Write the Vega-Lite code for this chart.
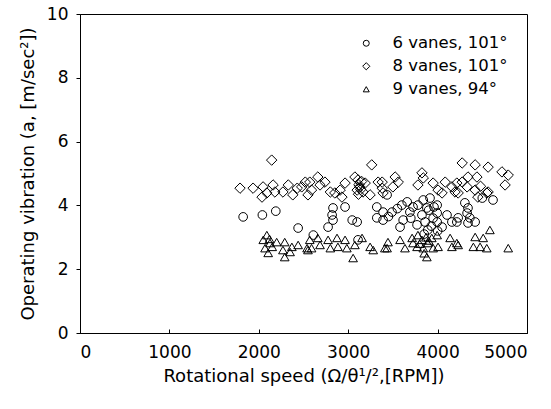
{
  "$schema": "https://vega.github.io/schema/vega-lite/v6.json",
  "width": 447,
  "height": 319,
  "autosize": {"type": "none"},
  "padding": {"left": 80, "top": 14, "right": 24, "bottom": 76},
  "background": "white",
  "config": {
    "font": "DejaVu Sans",
    "view": {"stroke": "black", "strokeWidth": 1},
    "axis": {"domainColor": "black", "tickColor": "black", "labelColor": "black", "titleColor": "black", "grid": false, "labelFont": "DejaVu Sans", "titleFont": "DejaVu Sans", "titleFontWeight": "normal"}
  },
  "data": {"values": [
    {"x":1825,"y":3.64,"s":"6 vanes, 101°"},{"x":2040,"y":3.70,"s":"6 vanes, 101°"},{"x":2190,"y":3.82,"s":"6 vanes, 101°"},{"x":2440,"y":3.29,"s":"6 vanes, 101°"},{"x":2830,"y":3.92,"s":"6 vanes, 101°"},{"x":2965,"y":3.95,"s":"6 vanes, 101°"},{"x":2820,"y":3.70,"s":"6 vanes, 101°"},{"x":2830,"y":3.54,"s":"6 vanes, 101°"},{"x":2775,"y":3.32,"s":"6 vanes, 101°"},{"x":3045,"y":3.54,"s":"6 vanes, 101°"},{"x":3100,"y":3.48,"s":"6 vanes, 101°"},{"x":2610,"y":3.07,"s":"6 vanes, 101°"},{"x":3320,"y":3.95,"s":"6 vanes, 101°"},{"x":3320,"y":3.61,"s":"6 vanes, 101°"},{"x":3390,"y":3.54,"s":"6 vanes, 101°"},{"x":3110,"y":2.92,"s":"6 vanes, 101°"},{"x":3435,"y":4.33,"s":"6 vanes, 101°"},{"x":3490,"y":3.79,"s":"6 vanes, 101°"},{"x":3390,"y":3.79,"s":"6 vanes, 101°"},{"x":3600,"y":4.01,"s":"6 vanes, 101°"},{"x":3660,"y":4.11,"s":"6 vanes, 101°"},{"x":3690,"y":3.79,"s":"6 vanes, 101°"},{"x":3615,"y":3.54,"s":"6 vanes, 101°"},{"x":3580,"y":3.32,"s":"6 vanes, 101°"},{"x":3725,"y":3.95,"s":"6 vanes, 101°"},{"x":3780,"y":4.01,"s":"6 vanes, 101°"},{"x":3840,"y":4.17,"s":"6 vanes, 101°"},{"x":3880,"y":3.92,"s":"6 vanes, 101°"},{"x":3915,"y":4.23,"s":"6 vanes, 101°"},{"x":3995,"y":4.01,"s":"6 vanes, 101°"},{"x":3995,"y":3.76,"s":"6 vanes, 101°"},{"x":3995,"y":3.48,"s":"6 vanes, 101°"},{"x":4050,"y":3.32,"s":"6 vanes, 101°"},{"x":4105,"y":3.70,"s":"6 vanes, 101°"},{"x":4160,"y":3.48,"s":"6 vanes, 101°"},{"x":4230,"y":3.61,"s":"6 vanes, 101°"},{"x":3860,"y":3.48,"s":"6 vanes, 101°"},{"x":3890,"y":3.23,"s":"6 vanes, 101°"},{"x":3770,"y":3.39,"s":"6 vanes, 101°"},{"x":3825,"y":3.70,"s":"6 vanes, 101°"},{"x":4620,"y":4.17,"s":"6 vanes, 101°"},{"x":4305,"y":4.08,"s":"6 vanes, 101°"},{"x":4340,"y":3.92,"s":"6 vanes, 101°"},{"x":4330,"y":3.76,"s":"6 vanes, 101°"},{"x":4360,"y":3.61,"s":"6 vanes, 101°"},{"x":4340,"y":3.45,"s":"6 vanes, 101°"},{"x":4215,"y":3.48,"s":"6 vanes, 101°"},{"x":4420,"y":3.48,"s":"6 vanes, 101°"},{"x":4500,"y":4.23,"s":"6 vanes, 101°"},{"x":3900,"y":3.85,"s":"6 vanes, 101°"},{"x":3950,"y":3.60,"s":"6 vanes, 101°"},{"x":3930,"y":3.35,"s":"6 vanes, 101°"},{"x":3850,"y":3.10,"s":"6 vanes, 101°"},{"x":3700,"y":3.60,"s":"6 vanes, 101°"},{"x":3550,"y":3.90,"s":"6 vanes, 101°"},{"x":3960,"y":3.95,"s":"6 vanes, 101°"},{"x":4000,"y":3.20,"s":"6 vanes, 101°"},{"x":3450,"y":3.65,"s":"6 vanes, 101°"},
    {"x":2144,"y":5.42,"s":"8 vanes, 101°"},{"x":1790,"y":4.54,"s":"8 vanes, 101°"},{"x":1936,"y":4.54,"s":"8 vanes, 101°"},{"x":2048,"y":4.58,"s":"8 vanes, 101°"},{"x":2036,"y":4.26,"s":"8 vanes, 101°"},{"x":2090,"y":4.39,"s":"8 vanes, 101°"},{"x":2160,"y":4.64,"s":"8 vanes, 101°"},{"x":2180,"y":4.42,"s":"8 vanes, 101°"},{"x":2270,"y":4.42,"s":"8 vanes, 101°"},{"x":2330,"y":4.64,"s":"8 vanes, 101°"},{"x":2380,"y":4.33,"s":"8 vanes, 101°"},{"x":2430,"y":4.54,"s":"8 vanes, 101°"},{"x":2480,"y":4.58,"s":"8 vanes, 101°"},{"x":2520,"y":4.73,"s":"8 vanes, 101°"},{"x":3263,"y":5.27,"s":"8 vanes, 101°"},{"x":2570,"y":4.73,"s":"8 vanes, 101°"},{"x":2660,"y":4.89,"s":"8 vanes, 101°"},{"x":2740,"y":4.73,"s":"8 vanes, 101°"},{"x":2590,"y":4.48,"s":"8 vanes, 101°"},{"x":2550,"y":4.33,"s":"8 vanes, 101°"},{"x":2685,"y":4.64,"s":"8 vanes, 101°"},{"x":2800,"y":4.42,"s":"8 vanes, 101°"},{"x":2850,"y":4.39,"s":"8 vanes, 101°"},{"x":2910,"y":4.48,"s":"8 vanes, 101°"},{"x":2965,"y":4.70,"s":"8 vanes, 101°"},{"x":2930,"y":4.26,"s":"8 vanes, 101°"},{"x":3075,"y":4.89,"s":"8 vanes, 101°"},{"x":3110,"y":4.80,"s":"8 vanes, 101°"},{"x":3130,"y":4.58,"s":"8 vanes, 101°"},{"x":3165,"y":4.42,"s":"8 vanes, 101°"},{"x":3100,"y":4.48,"s":"8 vanes, 101°"},{"x":3190,"y":4.70,"s":"8 vanes, 101°"},{"x":3245,"y":4.33,"s":"8 vanes, 101°"},{"x":3335,"y":4.73,"s":"8 vanes, 101°"},{"x":3390,"y":4.39,"s":"8 vanes, 101°"},{"x":3525,"y":4.89,"s":"8 vanes, 101°"},{"x":3560,"y":4.73,"s":"8 vanes, 101°"},{"x":3500,"y":4.58,"s":"8 vanes, 101°"},{"x":3825,"y":5.02,"s":"8 vanes, 101°"},{"x":3840,"y":4.86,"s":"8 vanes, 101°"},{"x":3780,"y":4.64,"s":"8 vanes, 101°"},{"x":3950,"y":4.70,"s":"8 vanes, 101°"},{"x":4005,"y":4.48,"s":"8 vanes, 101°"},{"x":4085,"y":4.73,"s":"8 vanes, 101°"},{"x":4050,"y":4.39,"s":"8 vanes, 101°"},{"x":4160,"y":4.58,"s":"8 vanes, 101°"},{"x":4195,"y":4.42,"s":"8 vanes, 101°"},{"x":3380,"y":4.73,"s":"8 vanes, 101°"},{"x":3380,"y":4.54,"s":"8 vanes, 101°"},{"x":4275,"y":5.33,"s":"8 vanes, 101°"},{"x":4420,"y":5.27,"s":"8 vanes, 101°"},{"x":4565,"y":5.20,"s":"8 vanes, 101°"},{"x":4720,"y":5.05,"s":"8 vanes, 101°"},{"x":4790,"y":4.95,"s":"8 vanes, 101°"},{"x":4755,"y":4.64,"s":"8 vanes, 101°"},{"x":4275,"y":4.73,"s":"8 vanes, 101°"},{"x":4340,"y":4.89,"s":"8 vanes, 101°"},{"x":4440,"y":4.89,"s":"8 vanes, 101°"},{"x":4330,"y":4.58,"s":"8 vanes, 101°"},{"x":4420,"y":4.48,"s":"8 vanes, 101°"},{"x":4450,"y":4.26,"s":"8 vanes, 101°"},{"x":4550,"y":4.39,"s":"8 vanes, 101°"},{"x":4565,"y":4.42,"s":"8 vanes, 101°"},{"x":4215,"y":4.70,"s":"8 vanes, 101°"},{"x":4230,"y":4.39,"s":"8 vanes, 101°"},{"x":3120,"y":4.65,"s":"8 vanes, 101°"},{"x":3140,"y":4.50,"s":"8 vanes, 101°"},{"x":3115,"y":4.35,"s":"8 vanes, 101°"},{"x":3150,"y":4.75,"s":"8 vanes, 101°"},{"x":4480,"y":4.60,"s":"8 vanes, 101°"},
    {"x":2090,"y":3.07,"s":"9 vanes, 94°"},{"x":2050,"y":2.92,"s":"9 vanes, 94°"},{"x":2125,"y":2.82,"s":"9 vanes, 94°"},{"x":2070,"y":2.66,"s":"9 vanes, 94°"},{"x":2105,"y":2.51,"s":"9 vanes, 94°"},{"x":2200,"y":2.85,"s":"9 vanes, 94°"},{"x":2290,"y":2.85,"s":"9 vanes, 94°"},{"x":2270,"y":2.60,"s":"9 vanes, 94°"},{"x":2290,"y":2.38,"s":"9 vanes, 94°"},{"x":2370,"y":2.70,"s":"9 vanes, 94°"},{"x":2440,"y":2.76,"s":"9 vanes, 94°"},{"x":2540,"y":2.66,"s":"9 vanes, 94°"},{"x":2350,"y":2.54,"s":"9 vanes, 94°"},{"x":2570,"y":2.92,"s":"9 vanes, 94°"},{"x":2660,"y":2.98,"s":"9 vanes, 94°"},{"x":2590,"y":2.66,"s":"9 vanes, 94°"},{"x":2685,"y":2.76,"s":"9 vanes, 94°"},{"x":2775,"y":2.92,"s":"9 vanes, 94°"},{"x":2800,"y":2.66,"s":"9 vanes, 94°"},{"x":2875,"y":2.98,"s":"9 vanes, 94°"},{"x":2885,"y":2.70,"s":"9 vanes, 94°"},{"x":2965,"y":2.92,"s":"9 vanes, 94°"},{"x":2985,"y":2.66,"s":"9 vanes, 94°"},{"x":3075,"y":2.76,"s":"9 vanes, 94°"},{"x":3155,"y":2.98,"s":"9 vanes, 94°"},{"x":3055,"y":2.35,"s":"9 vanes, 94°"},{"x":3245,"y":2.70,"s":"9 vanes, 94°"},{"x":3280,"y":2.60,"s":"9 vanes, 94°"},{"x":3410,"y":2.66,"s":"9 vanes, 94°"},{"x":2550,"y":2.60,"s":"9 vanes, 94°"},{"x":3445,"y":2.85,"s":"9 vanes, 94°"},{"x":3435,"y":2.66,"s":"9 vanes, 94°"},{"x":3580,"y":2.92,"s":"9 vanes, 94°"},{"x":3635,"y":2.66,"s":"9 vanes, 94°"},{"x":3715,"y":2.98,"s":"9 vanes, 94°"},{"x":3725,"y":2.82,"s":"9 vanes, 94°"},{"x":3780,"y":3.07,"s":"9 vanes, 94°"},{"x":3770,"y":2.70,"s":"9 vanes, 94°"},{"x":3825,"y":2.92,"s":"9 vanes, 94°"},{"x":3840,"y":2.66,"s":"9 vanes, 94°"},{"x":3880,"y":2.38,"s":"9 vanes, 94°"},{"x":3890,"y":2.82,"s":"9 vanes, 94°"},{"x":3935,"y":2.98,"s":"9 vanes, 94°"},{"x":3950,"y":2.66,"s":"9 vanes, 94°"},{"x":4005,"y":2.70,"s":"9 vanes, 94°"},{"x":4140,"y":2.98,"s":"9 vanes, 94°"},{"x":4160,"y":2.70,"s":"9 vanes, 94°"},{"x":4215,"y":2.82,"s":"9 vanes, 94°"},{"x":3995,"y":3.07,"s":"9 vanes, 94°"},{"x":4585,"y":3.23,"s":"9 vanes, 94°"},{"x":4510,"y":2.98,"s":"9 vanes, 94°"},{"x":4420,"y":3.01,"s":"9 vanes, 94°"},{"x":4400,"y":2.70,"s":"9 vanes, 94°"},{"x":4475,"y":2.70,"s":"9 vanes, 94°"},{"x":4550,"y":2.66,"s":"9 vanes, 94°"},{"x":4230,"y":2.76,"s":"9 vanes, 94°"},{"x":4790,"y":2.66,"s":"9 vanes, 94°"},{"x":2150,"y":2.70,"s":"9 vanes, 94°"},{"x":2120,"y":2.95,"s":"9 vanes, 94°"},{"x":3850,"y":2.50,"s":"9 vanes, 94°"},{"x":3900,"y":2.90,"s":"9 vanes, 94°"},{"x":3800,"y":2.80,"s":"9 vanes, 94°"},{"x":3870,"y":3.00,"s":"9 vanes, 94°"}
  ]},
  "mark": {"type": "point", "filled": false, "stroke": "black", "strokeWidth": 1, "opacity": 1, "size": 75},
  "encoding": {
    "x": {"field": "x", "type": "quantitative", "scale": {"domain": [0, 5000], "nice": false, "zero": false},
      "axis": {"title": "Rotational speed (Ω/θ¹/²,[RPM])", "values": [0,1000,2000,3000,4000,5000], "format": "d", "labelFontSize": 17, "titleFontSize": 18, "tickSize": -4, "labelPadding": 15, "titlePadding": 7}},
    "y": {"field": "y", "type": "quantitative", "scale": {"domain": [0, 10], "nice": false},
      "axis": {"title": "Operating vibration (a, [m/sec²])", "values": [0,2,4,6,8,10], "labelFontSize": 17, "titleFontSize": 18, "tickSize": 4, "labelPadding": 8, "titlePadding": 9}},
    "shape": {"field": "s", "type": "nominal",
      "scale": {"domain": ["6 vanes, 101°", "8 vanes, 101°", "9 vanes, 94°"], "range": ["circle", "M-1.2,0L0,-1.2L1.2,0L0,1.2Z", "triangle-up"]},
      "legend": {"title": null, "orient": "none", "legendX": 278, "legendY": 21, "padding": 0, "labelFontSize": 16.5, "labelColor": "black", "symbolSize": 36, "symbolStrokeColor": "black", "symbolStrokeWidth": 1, "symbolFillColor": "transparent", "labelOffset": 18, "rowPadding": 6, "labelFont": "DejaVu Sans"}}
  }
}
